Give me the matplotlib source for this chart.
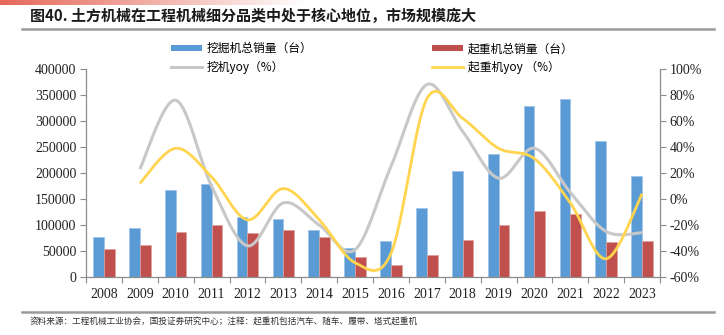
import numpy as np
import matplotlib
matplotlib.use("Agg")
import matplotlib.pyplot as plt
from matplotlib.lines import Line2D
from matplotlib.patches import Patch
from matplotlib.colors import LinearSegmentedColormap

plt.rcParams['font.family'] = ['Noto Sans CJK SC', 'DejaVu Sans']

years = ['2008', '2009', '2010', '2011', '2012', '2013', '2014', '2015',
         '2016', '2017', '2018', '2019', '2020', '2021', '2022', '2023']
excavator_sales = [76000, 94000, 167000, 178000, 116000, 112000, 90000, 55000,
                   70000, 133000, 204000, 236000, 328000, 343000, 262000, 195000]
crane_sales = [54000, 62000, 87000, 100000, 85000, 91000, 77000, 38000,
               23000, 43000, 71000, 100000, 127000, 122000, 67000, 69000]
# YoY growth (%) from 2009 onward
excavator_yoy = [23, 76, 10, -36, -3, -20, -39, 25, 88, 52, 16, 39, 5, -25, -26]
crane_yoy = [12, 39, 17, -16, 8, -16, -49, -42, 77, 62, 39, 31, -3, -46, 4]

BLUE = '#5B9BD5'
RED = '#C0504D'
GREY = '#C8C8C8'
YELLOW = '#FFD54F'
AXIS = '#8C8C8C'
NUM_FONT = 'Liberation Serif'


def smooth_curve(xs, ys, n=40):
    """Bezier smoothing through every point (Excel-style smoothed line)."""
    pts = np.column_stack([xs, ys]).astype(float)
    out = []
    t = np.linspace(0, 1, n)[:, None]
    for i in range(len(pts) - 1):
        p0 = pts[i - 1] if i > 0 else pts[i]
        p1, p2 = pts[i], pts[i + 1]
        p3 = pts[i + 2] if i + 2 < len(pts) else pts[i + 1]
        c1 = p1 + (p2 - p0) / 6.0
        c2 = p2 - (p3 - p1) / 6.0
        seg = ((1 - t) ** 3) * p1 + 3 * ((1 - t) ** 2) * t * c1 \
            + 3 * (1 - t) * t ** 2 * c2 + t ** 3 * p2
        out.append(seg if i == 0 else seg[1:])
    out = np.vstack(out)
    return out[:, 0], out[:, 1]


W, H = 724, 335
fig = plt.figure(figsize=(W / 100, H / 100), dpi=100)

# red gradient band across the top
band = fig.add_axes([0, 1 - 5 / H, 0.42, 5 / H])
cmap = LinearSegmentedColormap.from_list('band', ['#E5685A', '#F2B0A8', '#FFFFFF'])
band.imshow(np.linspace(0, 1, 256)[None, :], aspect='auto', cmap=cmap)
band.axis('off')

fig.text(30 / W, 1 - 16 / H, '图40. 土方机械在工程机械细分品类中处于核心地位，市场规模庞大',
         fontsize=10.8, fontweight='bold', color='#1A1A1A', va='center', ha='left')
fig.add_artist(Line2D([22 / W, 714 / W], [1 - 29 / H, 1 - 29 / H],
                      color='#9A9A9A', lw=1.8, transform=fig.transFigure))
fig.add_artist(Line2D([22 / W, 714 / W], [1 - 312 / H, 1 - 312 / H],
                      color='#9A9A9A', lw=1.8, transform=fig.transFigure))
fig.text(30 / W, 1 - 322 / H,
         '资料来源：工程机械工业协会，国投证券研究中心；注释：起重机包括汽车、随车、履带、塔式起重机',
         fontsize=6.2, color='#333333', va='center', ha='left')

ax = fig.add_axes([86 / W, 1 - 277 / H, (660 - 86) / W, (277 - 69) / H])
ax2 = ax.twinx()

x = np.arange(len(years))
bw = 0.30
ax.bar(x - bw / 2, excavator_sales, width=bw, color=BLUE, edgecolor='#9CC3E8', linewidth=0.5, zorder=2)
ax.bar(x + bw / 2, crane_sales, width=bw, color=RED, edgecolor='#E0A09C', linewidth=0.5, zorder=2)

ax.set_xlim(-0.5, len(years) - 0.5)
ax.set_ylim(0, 400000)
ax.set_yticks(np.arange(0, 400001, 50000))
ax.set_yticklabels([f'{v}' for v in range(0, 400001, 50000)], fontname=NUM_FONT, fontsize=10, color='#222222')
ax.set_xticks(x)
ax.set_xticklabels(years, fontname=NUM_FONT, fontsize=10, color='#222222')
ax.set_xticks(np.arange(-0.5, len(years), 1), minor=True)
ax.tick_params(axis='x', which='major', length=0, pad=8)
ax.tick_params(axis='x', which='minor', length=4, color=AXIS, width=0.8)
ax.tick_params(axis='y', length=4, color=AXIS, width=0.8, pad=3)

xl = x[1:]
gx, gy = smooth_curve(xl, excavator_yoy)
yx, yy = smooth_curve(xl, crane_yoy)
ax2.plot(gx, gy, color=GREY, lw=2.2, solid_capstyle='butt', zorder=3)
ax2.plot(yx, yy, color=YELLOW, lw=2.0, solid_capstyle='butt', zorder=4)
ax2.set_ylim(-60, 100)
ax2.set_yticks(np.arange(-60, 101, 20))
ax2.set_yticklabels([f'{v}%' for v in range(-60, 101, 20)], fontname=NUM_FONT, fontsize=10, color='#222222')
ax2.tick_params(axis='y', length=4, color=AXIS, width=0.8, pad=3)

for a in (ax, ax2):
    a.spines['top'].set_visible(False)
    for s in ('left', 'right', 'bottom'):
        a.spines[s].set_color(AXIS)
        a.spines[s].set_linewidth(0.9)
ax.spines['right'].set_visible(False)
ax2.spines['left'].set_visible(False)
ax2.spines['bottom'].set_visible(False)

handles = [Patch(facecolor=BLUE, edgecolor='none'),
           Line2D([], [], color=GREY, lw=2.2),
           Patch(facecolor=RED, edgecolor='none'),
           Line2D([], [], color=YELLOW, lw=2.0)]
labels = ['挖掘机总销量（台）', '挖机yoy（%）', '起重机总销量（台）', '起重机yoy （%）']
fig.legend(handles, labels, ncol=2, loc='center left',
           bbox_to_anchor=(165 / W, 1 - 58 / H), frameon=False,
           fontsize=8.5, handlelength=2.6, handleheight=0.45, handletextpad=0.45,
           columnspacing=10.1, labelspacing=0.45, borderpad=0)

fig.savefig('out.png', dpi=100, facecolor='white')
